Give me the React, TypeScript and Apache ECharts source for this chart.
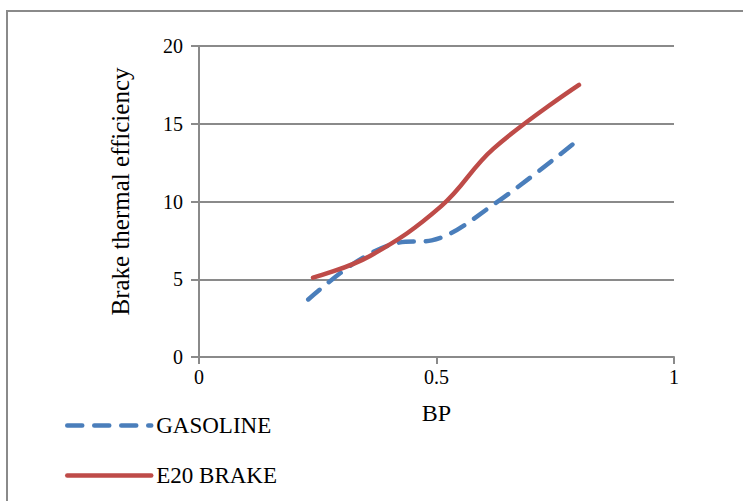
import React, { useEffect, useRef } from "react";
import * as echarts from "echarts";

const seriesNames = ["GASOLINE", "E20 BRAKE"];
const gasolineBP = [0.23, 0.33, 0.42, 0.49, 0.62, 0.8];
const gasolineBTE = [3.7, 6.1, 7.35, 7.5, 9.8, 14.0];
const e20BP = [0.24, 0.36, 0.51, 0.62, 0.8];
const e20BTE = [5.1, 6.5, 9.7, 13.4, 17.5];
const xTicks = [0, 0.5, 1];
const yTicks = [0, 5, 10, 15, 20];

const FONT = '"Liberation Serif", "Times New Roman", serif';
const GRID = "#8a8a8a";

export default function App() {
  const ref = useRef<HTMLDivElement>(null);
  useEffect(() => {
    if (!ref.current) return;
    const chart = echarts.init(ref.current, undefined, { renderer: "svg" });
    const pairs = (xs: number[], ys: number[]) => xs.map((x, i) => [x, ys[i]]);
    chart.setOption({
      animation: false,
      backgroundColor: "#ffffff",
      grid: { left: 199, right: 69, top: 46, bottom: 144, containLabel: false },
      graphic: [
        {
          type: "rect",
          shape: { x: 7, y: 11, width: 800, height: 600 },
          style: { fill: "none", stroke: GRID, lineWidth: 2 },
          silent: true,
        },
      ],
      legend: {
        orient: "vertical",
        left: 60,
        top: 409,
        itemWidth: 84,
        itemHeight: 14,
        itemGap: 27,
        data: seriesNames,
        itemStyle: { opacity: 0 },
        lineStyle: { width: 4.5, cap: "round" },
        textStyle: { fontFamily: FONT, fontSize: 23, color: "#000" },
      },
      xAxis: {
        type: "value",
        min: xTicks[0],
        max: xTicks[xTicks.length - 1],
        interval: 0.5,
        name: "BP",
        nameLocation: "middle",
        nameGap: 44,
        nameTextStyle: { fontFamily: FONT, fontSize: 24, color: "#000" },
        axisLine: { show: true, lineStyle: { color: GRID, width: 2 } },
        axisTick: { show: true, length: 7, lineStyle: { color: GRID, width: 2 } },
        axisLabel: { fontFamily: FONT, fontSize: 20, color: "#000", margin: 10 },
        splitLine: { show: false },
      },
      yAxis: {
        type: "value",
        min: yTicks[0],
        max: yTicks[yTicks.length - 1],
        interval: 5,
        name: "Brake thermal efficiency",
        nameLocation: "middle",
        nameRotate: 90,
        nameGap: 66,
        nameTextStyle: { fontFamily: FONT, fontSize: 25, color: "#000", padding: [0, 0, 0, 20] },
        axisLine: { show: true, lineStyle: { color: GRID, width: 2 } },
        axisTick: { show: true, length: 8, lineStyle: { color: GRID, width: 2 } },
        axisLabel: { fontFamily: FONT, fontSize: 20, color: "#000", margin: 16 },
        splitLine: { show: true, lineStyle: { color: GRID, width: 2 } },
      },
      series: [
        {
          name: seriesNames[0],
          type: "line",
          data: pairs(gasolineBP, gasolineBTE),
          smooth: 0.35,
          symbol: "none",
          color: "#4a7ebb",
          lineStyle: { color: "#4a7ebb", width: 4.5, type: [15, 12], cap: "round" },
        },
        {
          name: seriesNames[1],
          type: "line",
          data: pairs(e20BP, e20BTE),
          smooth: 0.4,
          symbol: "none",
          color: "#be4b48",
          lineStyle: { color: "#be4b48", width: 4.5, cap: "round" },
        },
      ],
    });
    return () => chart.dispose();
  }, []);
  return (
    <div
      ref={ref}
      style={{ position: "fixed", left: 0, top: 0, width: 743, height: 501, background: "#fff" }}
    />
  );
}
